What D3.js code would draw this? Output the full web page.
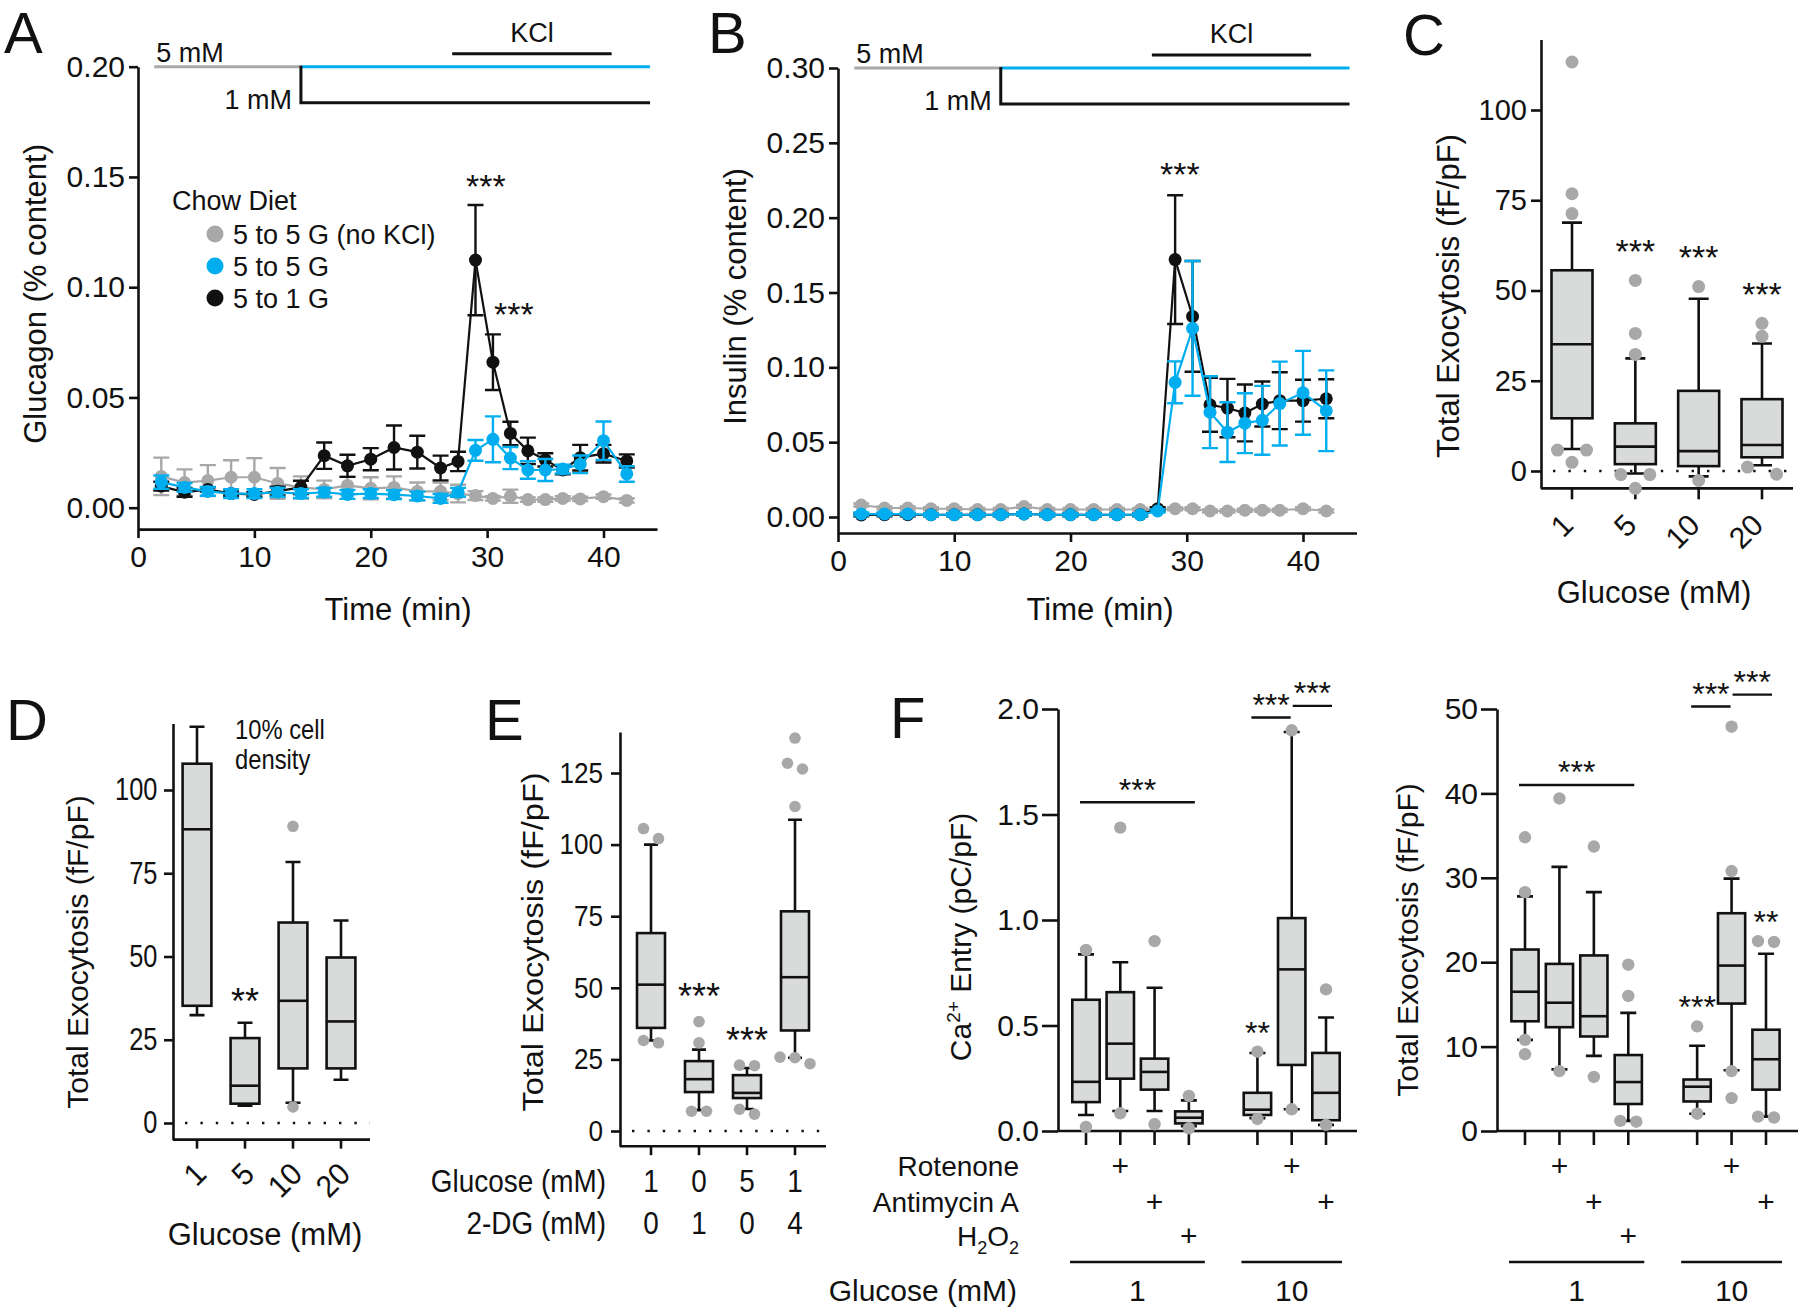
<!DOCTYPE html>
<html>
<head>
<meta charset="utf-8">
<script src="https://cdn.jsdelivr.net/npm/d3@7"></script>
<style>
  body { margin: 0; background: #fff; }
  svg { display: block; font-family: "Liberation Sans", Arial, sans-serif; }
</style>
</head>
<body>
<script>
// ---------- data ----------
const times = [2, 4, 6, 8, 10, 12, 14, 16, 18, 20, 22, 24, 26, 27.5, 29, 30.5, 32, 33.5, 35, 36.5, 38, 40, 42];
const timeTicks = [0, 10, 20, 30, 40];
const legendNames = ["5 to 5 G (no KCl)", "5 to 5 G", "5 to 1 G"];
const protocolMin = [1.4, 14, 44];   // 5 mM start, switch to test glucose, end
const kclMin = [27, 40.7];

// A: glucagon (% content)
const glucagonNoKcl = [0.0142, 0.0114, 0.0123, 0.0138, 0.0138, 0.011, 0.0092, 0.0083, 0.0101, 0.0088, 0.0092, 0.0074, 0.0074, 0.0064, 0.0055, 0.0042, 0.0052, 0.0037, 0.0037, 0.0042, 0.004, 0.005, 0.0033];
const glucagonNoKclErr = [0.0085, 0.006, 0.007, 0.0077, 0.0087, 0.007, 0.005, 0.004, 0.004, 0.005, 0.005, 0.004, 0.004, 0.004, 0.002, 0.001, 0.003, 0.001, 0.001, 0.001, 0.001, 0.001, 0.001];
const glucagon5to5 = [0.0116, 0.0092, 0.0074, 0.0064, 0.0064, 0.007, 0.0064, 0.007, 0.006, 0.0064, 0.0059, 0.0053, 0.0042, 0.007, 0.026, 0.031, 0.0225, 0.0171, 0.0171, 0.0175, 0.0197, 0.0304, 0.0153];
const glucagon5to5Err = [0.003, 0.002, 0.002, 0.002, 0.002, 0.002, 0.002, 0.002, 0.002, 0.002, 0.002, 0.002, 0.002, 0.002, 0.0047, 0.0104, 0.005, 0.004, 0.005, 0.002, 0.004, 0.0087, 0.0035];
const glucagon5to1 = [0.0098, 0.007, 0.0083, 0.0064, 0.006, 0.0075, 0.0092, 0.0236, 0.019, 0.022, 0.0273, 0.0252, 0.018, 0.021, 0.1123, 0.066, 0.0337, 0.0258, 0.0217, 0.0171, 0.0227, 0.0245, 0.0212];
const glucagon5to1Err = [0.002, 0.002, 0.001, 0.001, 0.001, 0.002, 0.003, 0.006, 0.005, 0.005, 0.010, 0.0074, 0.0056, 0.0044, 0.025, 0.0126, 0.0053, 0.006, 0.003, 0.002, 0.0058, 0.004, 0.003];
const glucagonStars = [[29.9, 0.149], [32.3, 0.091]];

// B: insulin (% content)
const insulinNoKcl = [0.008, 0.006, 0.006, 0.0055, 0.0055, 0.005, 0.005, 0.007, 0.005, 0.005, 0.005, 0.005, 0.005, 0.005, 0.0055, 0.0055, 0.004, 0.004, 0.0045, 0.0045, 0.0045, 0.0055, 0.004];
const insulinNoKclErr = [0.001, 0.001, 0.001, 0.001, 0.001, 0.001, 0.001, 0.001, 0.001, 0.001, 0.001, 0.001, 0.001, 0.001, 0.001, 0.001, 0.001, 0.001, 0.001, 0.001, 0.001, 0.001, 0.001];
const insulin5to5 = [0.002, 0.002, 0.002, 0.0015, 0.0015, 0.0015, 0.0015, 0.002, 0.0015, 0.0015, 0.0015, 0.0015, 0.0015, 0.004, 0.09, 0.126, 0.070, 0.0567, 0.0627, 0.0646, 0.0758, 0.083, 0.071];
const insulin5to5Err = [0.001, 0.001, 0.001, 0.001, 0.001, 0.001, 0.001, 0.001, 0.001, 0.001, 0.001, 0.001, 0.001, 0.001, 0.014, 0.045, 0.024, 0.02, 0.02, 0.023, 0.028, 0.028, 0.027];
const insulin5to1 = [0.0014, 0.0015, 0.0015, 0.0015, 0.0015, 0.0015, 0.0015, 0.002, 0.0015, 0.0015, 0.0015, 0.0015, 0.0015, 0.0055, 0.172, 0.134, 0.075, 0.0728, 0.0695, 0.0755, 0.0777, 0.0777, 0.079];
const insulin5to1Err = [0.001, 0.001, 0.001, 0.001, 0.001, 0.001, 0.001, 0.001, 0.001, 0.001, 0.001, 0.001, 0.001, 0.001, 0.043, 0.037, 0.018, 0.0195, 0.019, 0.015, 0.019, 0.014, 0.013];
const insulinStars = [[29.4, 0.234]];

// box stats: [whisker low, q1, median, q3, whisker high]
const cLabels = ["1", "5", "10", "20"];
const cStats = [[6.1, 14.6, 35.1, 55.6, 68.8], [-0.7, 1.9, 6.75, 13.2, 31.2], [-1.5, 1.35, 5.5, 22.2, 47.7], [1.6, 3.8, 7.2, 19.9, 35.3]];
const cOutliers = [[113.3, 76.8, 71.3, 5.8, 5.8, 2.4], [52.8, 38.1, 32.3, -1.0, -1.0, -4.8], [51.1, -2.6], [40.9, 37.3, -0.9, 1.1]];
const cStars = ["", "***", "***", "***"];

const dLabels = ["1", "5", "10", "20"];
const dStats = [[32.4, 35.2, 88.2, 107.9, 119], [5.2, 5.8, 11.2, 25.5, 30.1], [6.1, 16.4, 36.7, 60.2, 78.4], [13, 16.4, 30.5, 49.7, 60.8]];
const dOutliers = [[], [], [89.1, 4.8], []];
const dStars = ["", "**", "", ""];

const eGlucose = ["1", "0", "5", "1"];
const eDeoxyGlucose = ["0", "1", "0", "4"];
const eStats = [[31.6, 36, 51.1, 69.1, 100], [7.3, 13.6, 18.1, 24.4, 28.4], [7.7, 11.5, 13.3, 19.5, 22], [25.6, 35.1, 53.7, 76.7, 108.7]];
const eOutliers = [[102.1, 105.6, 30.8, 31.6], [38.2, 30.8, 6.9, 6.9], [22.8, 23, 5.9, 7.6], [137.2, 128.4, 126.4, 113.3, 23.5, 25.6, 25.8]];
const eStars = ["", "***", "***", ""];

// F: conditions
const fGlucose = ["1", "1", "1", "1", "10", "10", "10"];
const fRotenone = [0, 1, 0, 0, 0, 1, 0];
const fAntimycin = [0, 0, 1, 0, 0, 0, 1];
const fPeroxide = [0, 0, 0, 1, 0, 0, 0];

const caStats = [[0.076, 0.137, 0.233, 0.622, 0.837], [0.095, 0.248, 0.414, 0.658, 0.80], [0.095, 0.196, 0.28, 0.343, 0.679], [0.023, 0.036, 0.063, 0.093, 0.145], [0.061, 0.076, 0.101, 0.181, 0.37], [0.103, 0.313, 0.766, 1.009, 1.891], [0.029, 0.051, 0.181, 0.37, 0.538]];
const caOutliers = [[0.858, 0.019], [1.438, 0.084], [0.90, 0.032], [0.166, 0.013], [0.376, 0.057], [1.899, 0.103], [0.671, 0.029]];
const caStars = ["", "", "", "", "**", "", ""];
const caBrackets = [[0, 3, 1.558], [4, 5, 1.96], [5, 6, 2.015]];

const exoStats = [[10.8, 13.0, 16.5, 21.5, 27.8], [7.3, 12.3, 15.2, 19.8, 31.3], [8.9, 11.2, 13.6, 20.8, 28.3], [1.2, 3.2, 5.8, 9.0, 14.0], [2.05, 3.5, 5.25, 6.1, 10.1], [7.2, 15.1, 19.6, 25.8, 29.9], [1.7, 4.9, 8.5, 12.0, 21.0]];
const exoOutliers = [[34.8, 28.3, 10.8, 9.1], [39.4, 7.1], [33.7, 6.4], [19.7, 16.0, 1.1, 1.2], [12.4, 2.05], [47.9, 30.8, 7.1, 3.9], [22.4, 22.5, 1.6, 1.7]];
const exoStars = ["", "", "", "", "***", "", "**"];
const exoBrackets = [[0, 3, 41], [4, 5, 50.3], [5, 6, 51.7]];

// ---------- drawing ----------
const INK = "#111", BLUE = "#00aeef", GRAY = "#a8a8a8", FILL = "#d9dbda";

const svg = d3.select("body").append("svg").attr("width", 1800).attr("height", 1311);

function styleAxis(a, fs, sx) {
  a.attr("font-size", null).attr("font-family", null);
  a.select(".domain").attr("stroke", INK).attr("stroke-width", 2.6);
  a.selectAll(".tick line").attr("stroke", INK).attr("stroke-width", 2.6);
  a.selectAll(".tick text").attr("fill", INK).style("font-size", fs + "px");
  if (sx) a.selectAll(".tick text").attr("transform", `scale(${sx},1)`);
}

// text placed by transform so it can be rotated and squeezed like the source
function label(g, txt, x, y, fs, o = {}) {
  return g.append("text")
    .attr("transform", `translate(${x},${y})` + (o.rotate ? ` rotate(${o.rotate})` : "") + (o.sx ? ` scale(${o.sx},1)` : ""))
    .attr("fill", INK).style("font-size", fs + "px")
    .attr("text-anchor", o.anchor || "start").text(txt);
}

function panelLetter(ch, x, y) {
  label(svg, ch, x, y, 58);
}

function timePanel(c) {
  const xb = d3.scaleLinear().domain([0, 40]).range(c.xPx);
  const x = d3.scaleLinear().domain([0, c.xEnd]).range([xb(0), xb(c.xEnd)]);
  const yb = d3.scaleLinear().domain([0, c.yTop]).range(c.yPx);
  const y = d3.scaleLinear().domain([c.yMin, c.yTop]).range([yb(c.yMin), yb(c.yTop)]);
  const g = svg.append("g");
  const bottom = y(c.yMin), left = x(0), top = y(c.yTop);

  g.append("g").attr("transform", `translate(${left},0)`)
    .call(d3.axisLeft(y).tickValues(c.yTicks).tickFormat(d3.format(".2f")).tickSize(9).tickSizeOuter(0).tickPadding(4))
    .call(a => styleAxis(a, 30));
  g.append("g").attr("transform", `translate(0,${bottom})`)
    .call(d3.axisBottom(x).tickValues(timeTicks).tickSize(9).tickSizeOuter(0).tickPadding(8))
    .call(a => styleAxis(a, 30));

  label(g, c.yLabel, c.yLabelX, (top + bottom) / 2 - 4, 31, { anchor: "middle", rotate: -90 });
  label(g, "Time (min)", c.xLabelX, 620, 31, { anchor: "middle" });

  // protocol bars above the plot
  const [pStart, pSwitch, pEnd] = protocolMin;
  g.append("line").attr("x1", x(pStart)).attr("x2", x(pSwitch)).attr("y1", top).attr("y2", top)
    .attr("stroke", GRAY).attr("stroke-width", 3);
  g.append("line").attr("x1", x(pSwitch)).attr("x2", x(pEnd)).attr("y1", top).attr("y2", top)
    .attr("stroke", BLUE).attr("stroke-width", 3);
  g.append("path").attr("d", `M${x(pSwitch)},${top - 1}V${top + 36}H${x(pEnd)}`)
    .attr("fill", "none").attr("stroke", INK).attr("stroke-width", 3);
  g.append("line").attr("x1", x(kclMin[0])).attr("x2", x(kclMin[1])).attr("y1", top - 13).attr("y2", top - 13)
    .attr("stroke", INK).attr("stroke-width", 3);
  label(g, "KCl", x((kclMin[0] + kclMin[1]) / 2), top - 25, 27, { anchor: "middle" });
  label(g, "5 mM", x(pStart) + 2, top - 5, 27);
  label(g, "1 mM", x(pSwitch) - 9, top + 42, 27, { anchor: "end" });

  c.series.forEach(s => {
    const pts = times.map((t, i) => ({ t, v: s.v[i], e: s.e[i] }));
    const sg = g.append("g");
    sg.selectAll("path.eb").data(pts).join("path")
      .attr("d", d => {
        const px = x(d.t), y1 = y(d.v + d.e), y2 = y(d.v - d.e);
        return `M${px},${y1}V${y2}M${px - 8},${y1}h16M${px - 8},${y2}h16`;
      })
      .attr("fill", "none").attr("stroke", s.color).attr("stroke-width", 2.4);
    sg.append("path").datum(pts)
      .attr("d", d3.line().x(d => x(d.t)).y(d => y(d.v)))
      .attr("fill", "none").attr("stroke", s.color).attr("stroke-width", 2.2);
    sg.selectAll("circle").data(pts).join("circle")
      .attr("cx", d => x(d.t)).attr("cy", d => y(d.v)).attr("r", 6.5).attr("fill", s.color);
  });

  c.stars.forEach(([t, v]) => label(g, "***", x(t), y(v) + 19, 34, { anchor: "middle" }));
  return { x, y, g };
}

// ---- Panel A ----
const seriesColors = [GRAY, BLUE, INK];
const pA = timePanel({
  xPx: [138, 603.5], xEnd: 44.6, yPx: [507.7, 66.7], yTop: 0.2, yMin: -0.0097,
  yTicks: [0, 0.05, 0.1, 0.15, 0.2], yLabel: "Glucagon (% content)", yLabelX: 46, xLabelX: 398,
  series: [
    { v: glucagonNoKcl, e: glucagonNoKclErr, color: GRAY },
    { v: glucagon5to1, e: glucagon5to1Err, color: INK },
    { v: glucagon5to5, e: glucagon5to5Err, color: BLUE }
  ],
  stars: glucagonStars
});
label(pA.g, "Chow Diet", 172, 210, 27);
legendNames.forEach((n, i) => {
  pA.g.append("circle").attr("cx", 215).attr("cy", 234 + i * 32).attr("r", 8.5).attr("fill", seriesColors[i]);
  label(pA.g, n, 233, 244 + i * 32, 27);
});
panelLetter("A", 4, 53);

// ---- Panel B ----
timePanel({
  xPx: [838, 1303], xEnd: 44.6, yPx: [517, 68], yTop: 0.3, yMin: -0.0107,
  yTicks: [0, 0.05, 0.1, 0.15, 0.2, 0.25, 0.3], yLabel: "Insulin (% content)", yLabelX: 746, xLabelX: 1100,
  series: [
    { v: insulinNoKcl, e: insulinNoKclErr, color: GRAY },
    { v: insulin5to1, e: insulin5to1Err, color: INK },
    { v: insulin5to5, e: insulin5to5Err, color: BLUE }
  ],
  stars: insulinStars
});
panelLetter("B", 708, 53);

// ---- box plots ----
// points with (nearly) the same value are set side by side
function spreadPoints(vals, y, thr, step) {
  const pts = vals.map(v => ({ py: y(v) })).sort((a, b) => a.py - b.py);
  const groups = [];
  pts.forEach(p => {
    const last = groups[groups.length - 1];
    if (last && p.py - last[last.length - 1].py < thr) last.push(p); else groups.push([p]);
  });
  const out = [];
  groups.forEach(gr => gr.forEach((p, i) => out.push({ py: p.py, dx: (i - (gr.length - 1) / 2) * step })));
  return out;
}

function boxPanel(c) {
  const yb = d3.scaleLinear().domain(c.yRef).range(c.yPx);
  const y = d3.scaleLinear().domain([c.yMin, c.yMax]).range([yb(c.yMin), yb(c.yMax)]);
  const g = svg.append("g");
  const bottom = y(c.yMin);
  const xs = c.xs;

  g.append("g").attr("transform", `translate(${c.axisX},0)`)
    .call(d3.axisLeft(y).tickValues(c.yTicks).tickFormat(c.fmt).tickSize(c.yTick).tickSizeOuter(0).tickPadding(c.pad))
    .call(a => styleAxis(a, c.tickFs, c.tickSx));
  g.append("line").attr("x1", c.axisX).attr("x2", c.endX).attr("y1", bottom).attr("y2", bottom)
    .attr("stroke", INK).attr("stroke-width", 2.6);
  xs.forEach(px => g.append("line").attr("x1", px).attr("x2", px).attr("y1", bottom).attr("y2", bottom + c.xTick)
    .attr("stroke", INK).attr("stroke-width", 2.6));

  if (c.zeroLine) {
    g.append("line").attr("x1", c.axisX + 12).attr("x2", c.endX).attr("y1", y(0)).attr("y2", y(0))
      .attr("stroke", INK).attr("stroke-width", 2.4).attr("stroke-dasharray", "2.4,13");
  }

  c.stats.forEach((s, i) => {
    const [wlo, q1, med, q3, whi] = s;
    const px = xs[i];
    g.append("path")
      .attr("d", `M${px},${y(whi)}V${y(q3)}M${px},${y(q1)}V${y(wlo)}M${px - c.cap},${y(whi)}h${2 * c.cap}M${px - c.cap},${y(wlo)}h${2 * c.cap}`)
      .attr("fill", "none").attr("stroke", INK).attr("stroke-width", 2.6);
    g.append("rect").attr("x", px - c.hw).attr("width", 2 * c.hw).attr("y", y(q3)).attr("height", y(q1) - y(q3))
      .attr("fill", FILL).attr("stroke", INK).attr("stroke-width", 2.6);
    g.append("line").attr("x1", px - c.hw).attr("x2", px + c.hw).attr("y1", y(med)).attr("y2", y(med))
      .attr("stroke", INK).attr("stroke-width", 2.6);

    const pts = spreadPoints(c.outliers[i], y, c.thr, c.step);
    g.selectAll(null).data(pts).join("circle")
      .attr("cx", d => px + d.dx).attr("cy", d => d.py).attr("r", c.r).attr("fill", GRAY);

    if (c.stars[i]) {
      const topY = Math.min(y(whi), ...c.outliers[i].map(v => y(v) - c.r));
      label(g, c.stars[i], px, topY - c.starGap + 0.57 * c.starFs, c.starFs, { anchor: "middle" });
    }
  });

  (c.brackets || []).forEach(([a, b, v]) => {
    const startsAtB = c.brackets.some(o => o[0] === b);
    const endsAtA = c.brackets.some(o => o[1] === a);
    const x1 = endsAtA ? xs[a] + 1 : xs[a] - 6;
    const x2 = startsAtB ? xs[b] - 1 : xs[b] + 6;
    g.append("line").attr("x1", x1).attr("x2", x2).attr("y1", y(v)).attr("y2", y(v))
      .attr("stroke", INK).attr("stroke-width", 2.4);
    label(g, "***", (x1 + x2) / 2, y(v) - 20 + 0.57 * 32, 32, { anchor: "middle" });
  });
  return { y, g };
}

// ---- Panel C ----
const cx = d3.scalePoint().domain(cLabels).range([1572, 1762]);
const pC = boxPanel({
  yRef: [0, 100], yPx: [471, 110], yMin: -4.8, yMax: 119.5, yTicks: [0, 25, 50, 75, 100], fmt: d3.format("d"),
  axisX: 1541, endX: 1793, xs: cLabels.map(d => cx(d)), yTick: 10, xTick: 11, pad: 4, tickFs: 29,
  stats: cStats, outliers: cOutliers, stars: cStars, hw: 20.5, cap: 10, r: 6.5, thr: 8, step: 29,
  zeroLine: true, starGap: 30, starFs: 34
});
cLabels.forEach(d => label(pC.g, d, cx(d) + 3, 527, 30, { anchor: "end", rotate: -45 }));
label(pC.g, "Glucose (mM)", 1654, 603, 31, { anchor: "middle" });
label(pC.g, "Total Exocytosis (fF/pF)", 1459, 296, 31, { anchor: "middle", rotate: -90 });
panelLetter("C", 1403, 55);

// ---- Panel D ----
const dx = d3.scalePoint().domain(dLabels).range([197, 341]);
const pD = boxPanel({
  yRef: [0, 100], yPx: [1123, 790], yMin: -5, yMax: 120, yTicks: [0, 25, 50, 75, 100], fmt: d3.format("d"),
  axisX: 173, endX: 370, xs: dLabels.map(d => dx(d)), yTick: 9, xTick: 9, pad: 10, tickFs: 31, tickSx: 0.82,
  stats: dStats, outliers: dOutliers, stars: dStars, hw: 14.4, cap: 7.5, r: 5.8, thr: 11, step: 15,
  zeroLine: true, starGap: 29, starFs: 36
});
dLabels.forEach(d => label(pD.g, d, dx(d) + 11, 1176, 31, { anchor: "end", rotate: -45, sx: 0.95 }));
label(pD.g, "Glucose (mM)", 265, 1245, 31, { anchor: "middle" });
label(pD.g, "Total Exocytosis (fF/pF)", 88, 952, 30, { anchor: "middle", rotate: -90 });
label(pD.g, "10% cell", 235, 739, 27, { sx: 0.88 });
label(pD.g, "density", 235, 769, 27, { sx: 0.88 });
panelLetter("D", 6, 740);

// ---- Panel E ----
const ex = d3.scaleLinear().domain([0, 3]).range([651, 795]);
const eXs = eGlucose.map((d, i) => ex(i));
const pE = boxPanel({
  yRef: [0, 125], yPx: [1131, 773], yMin: -5.3, yMax: 139.3, yTicks: [0, 25, 50, 75, 100, 125], fmt: d3.format("d"),
  axisX: 620, endX: 826, xs: eXs, yTick: 9, xTick: 9, pad: 10, tickFs: 29, tickSx: 0.9,
  stats: eStats, outliers: eOutliers, stars: eStars, hw: 14, cap: 7, r: 5.8, thr: 11, step: 15,
  zeroLine: true, starGap: 27, starFs: 36
});
label(pE.g, "Glucose (mM)", 606, 1192, 31, { anchor: "end", sx: 0.9 });
label(pE.g, "2-DG (mM)", 606, 1234, 31, { anchor: "end", sx: 0.9 });
eGlucose.forEach((d, i) => label(pE.g, d, eXs[i], 1192, 31, { anchor: "middle", sx: 0.9 }));
eDeoxyGlucose.forEach((d, i) => label(pE.g, d, eXs[i], 1234, 31, { anchor: "middle", sx: 0.9 }));
label(pE.g, "Total Exocytosis (fF/pF)", 543, 942, 29, { anchor: "middle", rotate: -90, sx: 1.12 });
panelLetter("E", 485, 740);

// ---- Panel F (two plots sharing the condition table) ----
const groupNames = Array.from(new Set(fGlucose));
const fSlots = fGlucose.map((gName, i) => i + groupNames.indexOf(gName)); // one empty slot between glucose groups

function conditionTable(g, xs, withLabels) {
  const rows = [["Rotenone", fRotenone, 1176], ["Antimycin A", fAntimycin, 1212], ["H2O2", fPeroxide, 1246]];
  rows.forEach(([name, flags, by]) => {
    if (withLabels) {
      if (name === "H2O2") {
        const t = g.append("text").attr("x", 1019).attr("y", by).attr("text-anchor", "end").attr("fill", INK).style("font-size", "28px");
        t.append("tspan").text("H");
        t.append("tspan").attr("dy", 8).style("font-size", "18px").text("2");
        t.append("tspan").attr("dy", -8).text("O");
        t.append("tspan").attr("dy", 8).style("font-size", "18px").text("2");
      } else {
        label(g, name, 1019, by, 28, { anchor: "end" });
      }
    }
    flags.forEach((f, i) => { if (f) label(g, "+", xs[i], by, 30, { anchor: "middle" }); });
  });
  groupNames.forEach(gName => {
    const idx = fGlucose.map((d, i) => d === gName ? i : -1).filter(i => i >= 0);
    const x1 = xs[idx[0]] - 16, x2 = xs[idx[idx.length - 1]] + 16;
    g.append("line").attr("x1", x1).attr("x2", x2).attr("y1", 1262).attr("y2", 1262).attr("stroke", INK).attr("stroke-width", 2.4);
    label(g, gName, (x1 + x2) / 2, 1301, 30, { anchor: "middle" });
  });
  if (withLabels) label(g, "Glucose (mM)", 1017, 1301, 30, { anchor: "end" });
}

const fx = d3.scaleLinear().domain([0, 7]).range([1086, 1326]);
const fXs = fSlots.map(s => fx(s));
const pF = boxPanel({
  yRef: [0, 2], yPx: [1131, 709], yMin: 0, yMax: 2, yTicks: [0, 0.5, 1, 1.5, 2], fmt: d3.format(".1f"),
  axisX: 1058, endX: 1357, xs: fXs, yTick: 16, xTick: 14, pad: 3, tickFs: 30,
  stats: caStats, outliers: caOutliers, stars: caStars, brackets: caBrackets, hw: 13.7, cap: 8, r: 6.2, thr: 8, step: 16,
  zeroLine: false, starGap: 20, starFs: 32
});
conditionTable(pF.g, fXs, true);
{
  const t = pF.g.append("text").attr("transform", "translate(971,937) rotate(-90)")
    .attr("text-anchor", "middle").attr("fill", INK).style("font-size", "30px");
  t.append("tspan").text("Ca");
  t.append("tspan").attr("dy", -11).style("font-size", "19px").text("2+");
  t.append("tspan").attr("dy", 11).text(" Entry (pC/pF)");
}
panelLetter("F", 890, 738);

const gx = d3.scaleLinear().domain([0, 7]).range([1525, 1766]);
const gXs = fSlots.map(s => gx(s));
const pG = boxPanel({
  yRef: [0, 50], yPx: [1131, 709], yMin: 0, yMax: 50, yTicks: [0, 10, 20, 30, 40, 50], fmt: d3.format("d"),
  axisX: 1497, endX: 1798, xs: gXs, yTick: 16, xTick: 14, pad: 3, tickFs: 30,
  stats: exoStats, outliers: exoOutliers, stars: exoStars, brackets: exoBrackets, hw: 13.6, cap: 8, r: 6.2, thr: 8, step: 16,
  zeroLine: false, starGap: 20, starFs: 32
});
conditionTable(pG.g, gXs, false);
label(pG.g, "Total Exocytosis (fF/pF)", 1418, 940, 30, { anchor: "middle", rotate: -90 });
</script>
</body>
</html>
